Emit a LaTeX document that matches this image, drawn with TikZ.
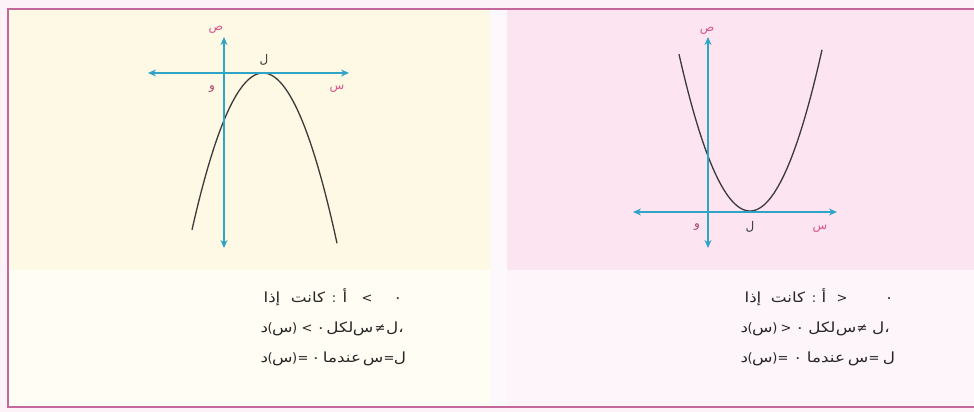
\documentclass[tikz,border=0pt]{standalone}
\usepackage{fontspec}
\newfontfamily\arabicfont[Script=Arabic,FakeStretch=1.2]{DejaVu Sans}
\newfontfamily\labelfont[Script=Arabic]{DejaVu Sans}
\newfontfamily\symfont{DejaVu Sans}
\usetikzlibrary{arrows.meta}
\definecolor{framecol}{HTML}{C4679B}
\definecolor{outside}{HTML}{FCF2F7}
\definecolor{creamtop}{HTML}{FDF9E4}
\definecolor{creambot}{HTML}{FFFDF4}
\definecolor{gapcol}{HTML}{FDF8FB}
\definecolor{pinktop}{HTML}{FCE5F0}
\definecolor{pinkbot}{HTML}{FDF5F9}
\definecolor{axiscol}{HTML}{2FA4C6}
\definecolor{curvecol}{HTML}{3A3A3A}
\definecolor{lblpink}{HTML}{D8558F}
\definecolor{lbldark}{HTML}{A8456A}
\newcommand\aw[1]{\mbox{#1}}
\newcommand\sy[1]{\mbox{\symfont\fontsize{13}{15}\selectfont #1}}
\newcommand\fxx{\aw{د}\kern-0.5pt\sy{(}\kern-0.5pt\aw{س}\kern-0.5pt\sy{)}}
% token: name, x, y(baseline), text
\newcommand\tk[4]{\node[tokstyle] (#1) at (#2,#3) {#4};}
\tikzset{
  axisline/.style={draw=axiscol, line width=1.8pt, {Stealth[length=8pt,width=7pt]}-{Stealth[length=8pt,width=7pt]}},
  curveline/.style={draw=curvecol, line width=1.3pt},
  framelinestyle/.style={draw=framecol, line width=2.4pt},
  tokstyle/.style={font=\arabicfont\fontsize{14}{17}\selectfont, anchor=base, inner sep=0pt, text=black!85},
  axlabel/.style={font=\labelfont\fontsize{12}{14}\selectfont, inner sep=0pt},
}
\begin{document}
\begin{tikzpicture}[x=1pt,y=-1pt]
\useasboundingbox (0,0) rectangle (974,412);
% backgrounds
\fill[outside] (0,0) rectangle (974,412);
\fill[creamtop] (9,10) rectangle (490,270);
\fill[creambot] (9,270) rectangle (490,406);
\fill[gapcol] (490,10) rectangle (507,406);
\fill[pinktop] (507,10) rectangle (974,270);
\fill[pinkbot] (507,270) rectangle (974,406);
% frame
\coordinate (F-tr) at (974,9);
\coordinate (F-tl) at (8,9);
\coordinate (F-bl) at (8,407);
\coordinate (F-br) at (974,407);
\draw[framelinestyle] (F-tr) -- (F-tl) -- (F-bl) -- (F-br);

% ---------- left graph (a<0) ----------
\coordinate (L-xl) at (148,73);
\coordinate (L-xr) at (349,73);
\coordinate (L-yt) at (224,37);
\coordinate (L-yb) at (224,248);
\draw[curveline] plot[domain=192:337, samples=80, smooth] (\x, {73+0.0311*(\x-263)*(\x-263)});
\draw[axisline] (L-xl) -- (L-xr);
\draw[axisline] (L-yb) -- (L-yt);
\node[axlabel, text=lblpink] (L-sad) at (216,30) {ص};
\node[axlabel, text=lbldark] (L-waw) at (212,89) {و};
\node[axlabel, text=lblpink] (L-sin) at (337,89) {س};
\node[axlabel, text=curvecol] (L-lam) at (264,60) {ل};

% ---------- right graph (a>0) ----------
\coordinate (R-xl) at (633,212);
\coordinate (R-xr) at (837,212);
\coordinate (R-yt) at (708,37);
\coordinate (R-yb) at (708,248);
\draw[curveline] plot[domain=679:822, samples=80, smooth] (\x, {211-0.0311*(\x-750)*(\x-750)});
\draw[axisline] (R-xl) -- (R-xr);
\draw[axisline] (R-yb) -- (R-yt);
\node[axlabel, text=lblpink] (R-sad) at (707,31) {ص};
\node[axlabel, text=lbldark] (R-waw) at (697,227) {و};
\node[axlabel, text=curvecol] (R-lam) at (750,227) {ل};
\node[axlabel, text=lblpink] (R-sin) at (820,229) {س};

% ---------- left texts ----------
\tk{L1a}{272}{302}{\aw{إذا}}
\tk{L1b}{308}{302}{\aw{كانت}}
\tk{L1c}{334}{302}{\sy{:}}
\tk{L1d}{345}{302}{\aw{أ}}
\tk{L1e}{367}{302}{\sy{<}}
\tk{L1f}{398}{302}{\aw{٠}}

\tk{L2a}{279}{332}{\fxx}
\tk{L2b}{307}{332}{\sy{<}}
\tk{L2c}{321}{332}{\aw{٠}}
\tk{L2d}{340}{332}{\aw{لكل}}
\tk{L2e}{363}{332}{\aw{س}}
\tk{L2f}{380}{332}{\sy{≠}}
\tk{L2g}{395}{332}{\aw{ل}\aw{،}}

\tk{L3a}{279}{362}{\fxx}
\tk{L3b}{303}{362}{\sy{=}}
\tk{L3c}{316}{362}{\aw{٠}}
\tk{L3d}{342}{362}{\aw{عندما}}
\tk{L3e}{373}{362}{\aw{س}}
\tk{L3f}{389}{362}{\sy{=}}
\tk{L3g}{400}{362}{\aw{ل}}

% ---------- right texts ----------
\tk{R1a}{753}{302}{\aw{إذا}}
\tk{R1b}{788}{302}{\aw{كانت}}
\tk{R1c}{814}{302}{\sy{:}}
\tk{R1d}{824}{302}{\aw{أ}}
\tk{R1e}{842}{302}{\sy{>}}
\tk{R1f}{889}{302}{\aw{٠}}

\tk{R2a}{759}{332}{\fxx}
\tk{R2b}{786}{332}{\sy{>}}
\tk{R2c}{800}{332}{\aw{٠}}
\tk{R2d}{822}{332}{\aw{لكل}}
\tk{R2e}{846}{332}{\aw{س}}
\tk{R2f}{862}{332}{\sy{≠}}
\tk{R2g}{881}{332}{\aw{ل}\aw{،}}

\tk{R3a}{759}{362}{\fxx}
\tk{R3b}{783}{362}{\sy{=}}
\tk{R3c}{798}{362}{\aw{٠}}
\tk{R3d}{826}{362}{\aw{عندما}}
\tk{R3e}{858}{362}{\aw{س}}
\tk{R3f}{874}{362}{\sy{=}}
\tk{R3g}{889}{362}{\aw{ل}}
\end{tikzpicture}
\end{document}
